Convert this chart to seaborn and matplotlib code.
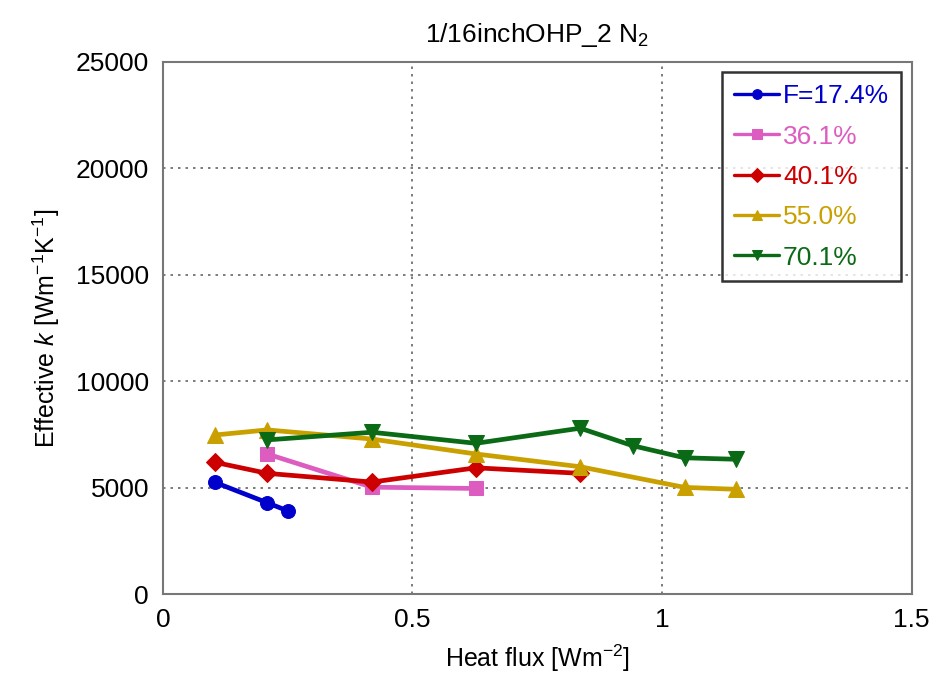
import matplotlib
matplotlib.use("Agg")
import matplotlib.pyplot as plt
import matplotlib.font_manager as fm
import seaborn as sns
import pandas as pd

# ---- data ----
labels = ["F=17.4%", "36.1%", "40.1%", "55.0%", "70.1%"]
x_174 = [0.104, 0.209, 0.251]
y_174 = [5250, 4290, 3900]
x_361 = [0.209, 0.419, 0.627]
y_361 = [6580, 5020, 4960]
x_401 = [0.104, 0.209, 0.419, 0.627, 0.836]
y_401 = [6190, 5670, 5260, 5930, 5670]
x_550 = [0.104, 0.209, 0.419, 0.627, 0.836, 1.045, 1.149]
y_550 = [7470, 7710, 7280, 6580, 5980, 5010, 4920]
x_701 = [0.209, 0.419, 0.627, 0.836, 0.941, 1.045, 1.149]
y_701 = [7240, 7600, 7080, 7790, 6970, 6400, 6330]
xticks = [0, 0.5, 1, 1.5]
xticklabels = ["0", "0.5", "1", "1.5"]
yticks = [0, 5000, 10000, 15000, 20000, 25000]

series_x = [x_174, x_361, x_401, x_550, x_701]
series_y = [y_174, y_361, y_401, y_550, y_701]
colors = ["#0000CC", "#DD5CC0", "#CC0000", "#C9A000", "#0B6A16"]
markers = ["o", "s", "D", "^", "v"]
msizes = [10, 10, 9, 11, 11]

sns.set_theme(style="white")
avail = {f.name for f in fm.fontManager.ttflist}
fam = "Liberation Sans Narrow" if "Liberation Sans Narrow" in avail else "Liberation Sans"
plt.rcParams["font.family"] = [fam, "DejaVu Sans"]
plt.rcParams["mathtext.fontset"] = "custom"
plt.rcParams["mathtext.rm"] = fam
plt.rcParams["mathtext.it"] = fam + ":italic"
plt.rcParams["text.color"] = "black"
plt.rcParams["axes.labelcolor"] = "black"
plt.rcParams["xtick.color"] = "black"
plt.rcParams["ytick.color"] = "black"

fig = plt.figure(figsize=(9.36, 6.86), dpi=100)
ax = fig.add_axes([0.174, 0.134, 0.800, 0.776])

frames = []
for lab, xs, ys in zip(labels, series_x, series_y):
    frames.append(pd.DataFrame({"x": xs, "y": ys, "F": lab}))
df = pd.concat(frames, ignore_index=True)

for lab, c, m, ms in zip(labels, colors, markers, msizes):
    sub = df[df["F"] == lab]
    sns.lineplot(data=sub, x="x", y="y", ax=ax, color=c, marker=m,
                 markersize=ms, markeredgecolor=c, linewidth=3.4,
                 label=lab, sort=False)

ax.set_xlim(0, 1.5)
ax.set_ylim(0, 25000)
ax.set_xticks(xticks)
ax.set_xticklabels(xticklabels)
ax.set_yticks(yticks)
ax.grid(True, color="#666666", linestyle=(0, (1.5, 3)), linewidth=1.2)
for s in ax.spines.values():
    s.set_color("#777777")
    s.set_linewidth(1.5)
ax.tick_params(axis="both", direction="in", length=6, color="#777777",
               labelcolor="black", labelsize=19, pad=10, top=False, right=False)

ax.set_xlabel(r"Heat flux [Wm$^{-2}$]", fontsize=18, labelpad=8)
ax.set_ylabel(r"Effective $k$ [Wm$^{-1}$K$^{-1}$]", fontsize=18, labelpad=10)
ax.set_title(r"1/16inchOHP_2 N$_2$", fontsize=19, pad=14)

leg = ax.legend(loc="upper right", fontsize=19, frameon=True, fancybox=False,
                edgecolor="black", handlelength=1.7, handletextpad=0.15,
                borderpad=0.45, labelspacing=0.62, labelcolor="linecolor",
                borderaxespad=0.4)
leg.get_frame().set_linewidth(1.8)
for h in leg.legend_handles:
    h.set_markersize(7)
    h.set_linewidth(2.4)

fig.savefig("out.png", dpi=100)
